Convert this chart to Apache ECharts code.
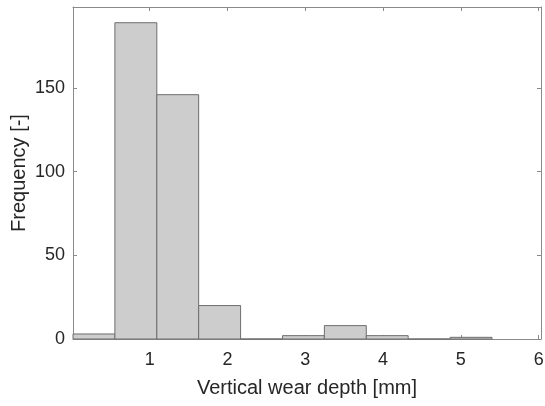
<!DOCTYPE html>
<html>
<head>
<meta charset="utf-8">
<script src="https://cdn.jsdelivr.net/npm/echarts@6/dist/echarts.min.js"></script>
<style>html,body{margin:0;padding:0;background:#fff}#c{width:545px;height:406px}</style>
</head>
<body>
<div id="c"></div>
<script>
// Histogram bin edges (mm) and counts
var binEdges = [0.0135, 0.552, 1.091, 1.629, 2.168, 2.707, 3.245, 3.784, 4.322, 4.861, 5.400];
var counts = [3, 189, 146, 20, 0, 2, 8, 2, 0, 1];
var xTicks = [1, 2, 3, 4, 5, 6];
var yTicks = [0, 50, 100, 150];
var xLimits = [0.0135, 6.03];
var yLimits = [0, 198.4];
var xTitle = 'Vertical wear depth [mm]';
var yTitle = 'Frequency [-]';

var data = counts.map(function (c, i) { return [binEdges[i], binEdges[i + 1], c]; });

var axisColor = '#8a8a8a';
var textColor = '#262626';
var font = 'Liberation Sans, Arial, Helvetica, sans-serif';

function xAx(pos, show) {
  return {
    type: 'value', position: pos, min: xLimits[0], max: xLimits[1],
    axisLine: { show: true, onZero: false, lineStyle: { color: axisColor, width: 1 } },
    axisTick: { show: true, inside: true, length: 4, customValues: xTicks, lineStyle: { color: axisColor } },
    axisLabel: { show: show, customValues: xTicks, color: textColor, fontSize: 18, fontFamily: font, margin: 12 },
    splitLine: { show: false },
    name: show ? xTitle : '', nameLocation: 'middle', nameGap: 39,
    nameTextStyle: { color: textColor, fontSize: 20, fontFamily: font }
  };
}
function yAx(pos, show) {
  return {
    type: 'value', position: pos, min: yLimits[0], max: yLimits[1],
    axisLine: { show: true, onZero: false, lineStyle: { color: axisColor, width: 1 } },
    axisTick: { show: true, inside: true, length: 4, customValues: yTicks, lineStyle: { color: axisColor } },
    axisLabel: { show: show, customValues: yTicks, color: textColor, fontSize: 18, fontFamily: font, margin: 8 },
    splitLine: { show: false },
    name: show ? yTitle : '', nameLocation: 'middle', nameGap: 44, nameMoveOverlap: false,
    nameTextStyle: { color: textColor, fontSize: 20, fontFamily: font }
  };
}

var chart = echarts.init(document.getElementById('c'), null, { renderer: 'canvas' });
chart.setOption({
  animation: false,
  backgroundColor: '#ffffff',
  grid: { left: 73, right: 4, top: 7, bottom: 67, containLabel: false, outerBoundsMode: 'none' },
  xAxis: [xAx('bottom', true), xAx('top', false)],
  yAxis: [yAx('left', true), yAx('right', false)],
  series: [{
    type: 'custom',
    xAxisIndex: 0, yAxisIndex: 0,
    data: data,
    renderItem: function (params, api) {
      var p0 = api.coord([api.value(0), 0]);
      var p1 = api.coord([api.value(1), api.value(2)]);
      return {
        type: 'rect',
        shape: { x: p0[0], y: p1[1], width: p1[0] - p0[0], height: p0[1] - p1[1] },
        style: { fill: '#cdcdcd', stroke: '#6e6e6e', lineWidth: 1 }
      };
    },
    encode: { x: [0, 1], y: 2 }
  }]
});
</script>
</body>
</html>
